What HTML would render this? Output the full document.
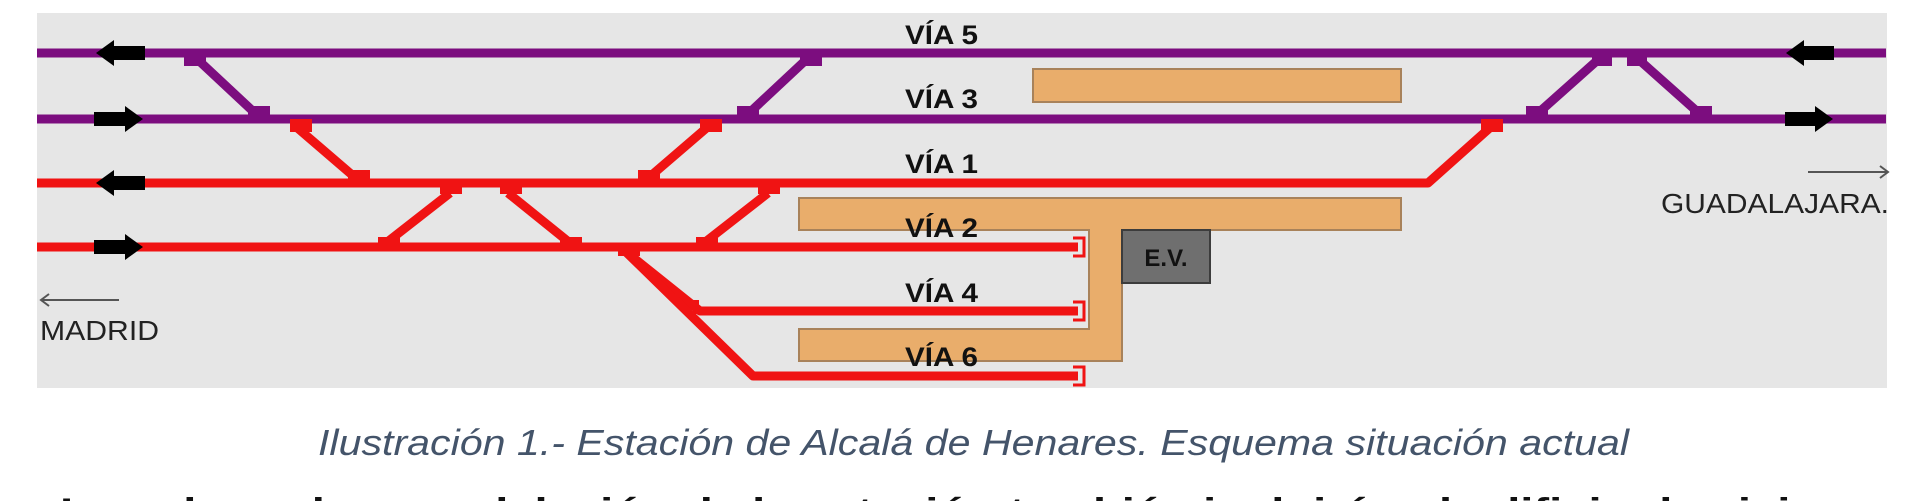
<!DOCTYPE html>
<html><head><meta charset="utf-8"><style>
html,body{margin:0;padding:0;background:#fff;width:1920px;height:501px;overflow:hidden}
svg{display:block}
</style></head><body>
<svg width="1920" height="501" viewBox="0 0 1920 501" xmlns="http://www.w3.org/2000/svg">
<rect x="37" y="13" width="1850" height="375" fill="#e6e6e6"/>
<rect x="1033" y="69" width="368" height="33" fill="#e9ad6b" stroke="#a8825a" stroke-width="2"/>
<path d="M799 198 H1401 V230 H1122 V361 H799 V329 H1089 V230 H799 Z" fill="#e9ad6b" stroke="#a8825a" stroke-width="2"/>
<rect x="1122" y="230" width="88" height="53" fill="#6f6f6f" stroke="#3c3c3c" stroke-width="2"/>
<text x="1166" y="266" font-family="Liberation Sans, sans-serif" font-weight="bold" font-size="24" text-anchor="middle" fill="#111">E.V.</text>
<g stroke="#7c0d7f" stroke-width="9" fill="none">
<line x1="37" y1="53" x2="1886" y2="53"/>
<line x1="37" y1="119" x2="1886" y2="119"/>
<line x1="196" y1="58" x2="257" y2="115"/>
<line x1="747" y1="115" x2="808" y2="58"/>
<line x1="1536" y1="115" x2="1600" y2="58"/>
<line x1="1637" y1="58" x2="1701" y2="115"/>
</g>
<g fill="#7c0d7f">
<rect x="184" y="53" width="22" height="13"/><rect x="248" y="106" width="22" height="13"/>
<rect x="737" y="106" width="22" height="13"/><rect x="800" y="53" width="22" height="13"/>
<rect x="1526" y="106" width="22" height="13"/><rect x="1592" y="53" width="20" height="13"/>
<rect x="1627" y="53" width="20" height="13"/><rect x="1690" y="106" width="22" height="13"/>
</g>
<g stroke="#f01313" stroke-width="9" fill="none" stroke-linejoin="round">
<polyline points="37,183 1428,183 1493,125"/>
<line x1="37" y1="247" x2="1078" y2="247"/>
<polyline points="625,251 700,311 1078,311"/>
<polyline points="625,251 753,376 1078,376"/>
<line x1="294" y1="125" x2="358" y2="180"/>
<line x1="646" y1="180" x2="710" y2="125"/>
<line x1="386" y1="243" x2="450" y2="193"/>
<line x1="508" y1="193" x2="570" y2="243"/>
<line x1="704" y1="243" x2="768" y2="193"/>
</g>
<g fill="#f01313">
<rect x="290" y="119" width="22" height="13"/><rect x="348" y="170" width="22" height="13"/>
<rect x="638" y="170" width="22" height="13"/><rect x="700" y="119" width="22" height="13"/>
<rect x="378" y="237" width="22" height="13"/><rect x="440" y="186" width="22" height="8"/>
<rect x="500" y="186" width="22" height="8"/><rect x="560" y="237" width="22" height="13"/>
<rect x="696" y="237" width="22" height="13"/><rect x="758" y="186" width="22" height="8"/>
<rect x="618" y="243" width="22" height="13"/><rect x="1481" y="119" width="22" height="13"/>
<rect x="693" y="300" width="6" height="14"/>
</g>
<g stroke="#f01313" stroke-width="3" fill="none">
<polyline points="1073,238 1084,238 1084,256 1073,256"/>
<polyline points="1073,302 1084,302 1084,320 1073,320"/>
<polyline points="1073,367 1084,367 1084,385 1073,385"/>
</g>
<g fill="#000">
<path d="M96 53 L114 40 V46 H145 V60 H114 V66 Z"/>
<path d="M143 119 L125 106 V112 H94 V126 H125 V132 Z"/>
<path d="M96 183 L114 170 V176 H145 V190 H114 V196 Z"/>
<path d="M143 247 L125 234 V240 H94 V254 H125 V260 Z"/>
<path d="M1786 53 L1804 40 V46 H1834 V60 H1804 V66 Z"/>
<path d="M1833 119 L1815 106 V112 H1785 V126 H1815 V132 Z"/>
</g>
<g font-family="Liberation Sans, sans-serif" font-weight="bold" font-size="27" fill="#111">
<text x="905" y="44" textLength="73" lengthAdjust="spacingAndGlyphs">VÍA 5</text>
<text x="905" y="108" textLength="73" lengthAdjust="spacingAndGlyphs">VÍA 3</text>
<text x="905" y="173" textLength="73" lengthAdjust="spacingAndGlyphs">VÍA 1</text>
<text x="905" y="237" textLength="73" lengthAdjust="spacingAndGlyphs">VÍA 2</text>
<text x="905" y="302" textLength="73" lengthAdjust="spacingAndGlyphs">VÍA 4</text>
<text x="905" y="366" textLength="73" lengthAdjust="spacingAndGlyphs">VÍA 6</text>
</g>
<g stroke="#555" stroke-width="2" fill="none">
<line x1="41" y1="300" x2="119" y2="300"/><polyline points="49,294 41,300 49,306"/>
<line x1="1808" y1="172" x2="1888" y2="172"/><polyline points="1880,166 1888,172 1880,178"/>
</g>
<g font-family="Liberation Sans, sans-serif" font-size="28" fill="#222">
<text x="40" y="340" textLength="119" lengthAdjust="spacingAndGlyphs">MADRID</text>
<text x="1661" y="213" textLength="228" lengthAdjust="spacingAndGlyphs">GUADALAJARA.</text>
</g>
<text x="318" y="455" font-family="Liberation Sans, sans-serif" font-style="italic" font-size="36" fill="#44546a" textLength="1311" lengthAdjust="spacingAndGlyphs">Ilustración 1.- Estación de Alcalá de Henares. Esquema situación actual</text>
<text x="60" y="522" font-family="Liberation Sans, sans-serif" font-weight="bold" font-size="34" fill="#111" textLength="1830" lengthAdjust="spacingAndGlyphs">Las obras de remodelación de la estación también incluirán el edificio de viajeros</text>
</svg>
</body></html>
